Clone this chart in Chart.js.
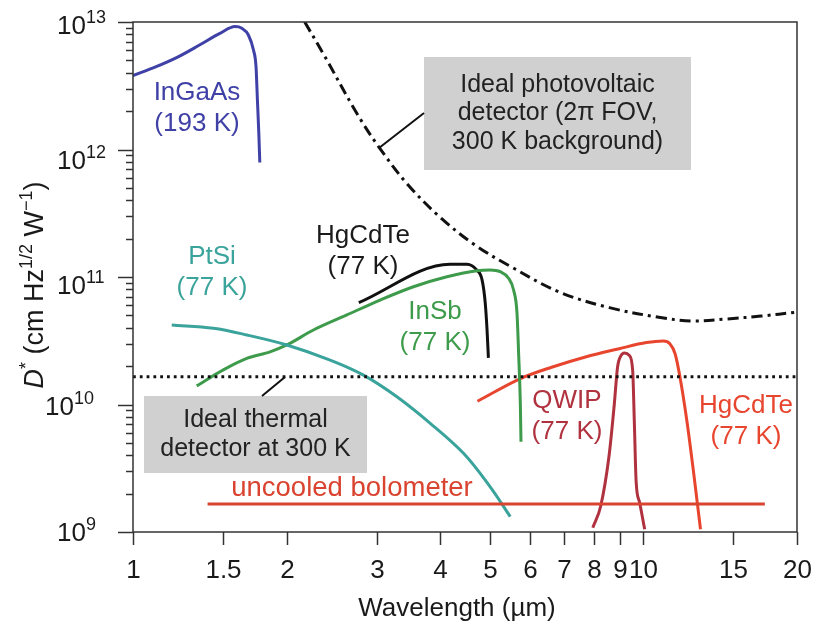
<!DOCTYPE html>
<html>
<head>
<meta charset="utf-8">
<script src="https://cdn.jsdelivr.net/npm/chart.js@4.4.1/dist/chart.umd.min.js"></script>
<style>
  html, body { margin: 0; padding: 0; background: #fff; }
  canvas { display: block; }
</style>
</head>
<body>
<canvas id="detChart" width="817" height="625"></canvas>
<script>
// wavelength (um) and D* (cm Hz^1/2 W^-1) for each detector
const ingaasWl = [1.0, 1.11, 1.22, 1.35, 1.48, 1.585, 1.634, 1.683, 1.722, 1.742, 1.753, 1.764, 1.772];
const ingaasD = [3.8e12, 4.46e12, 5.28e12, 6.6e12, 8.15e12, 9.2e12, 8.93e12, 7.91e12, 6.03e12, 4.46e12, 2.44e12, 1.35e12, 7.9e11];

const pvWl = [2.17, 2.36, 2.75, 3.04, 3.46, 4.02, 4.68, 5.45, 6.84, 8.58, 10.8, 12.5, 14.6, 17.0, 20];
const pvD = [1e13, 5.63e12, 1.9e12, 1.03e12, 5.27e11, 2.88e11, 1.78e11, 1.23e11, 7.63e10, 5.75e10, 4.81e10, 4.52e10, 4.69e10, 4.94e10, 5.3e10];

const hgcdteSwWl = [2.77, 4.18, 4.51, 4.72, 4.83, 4.90, 4.94, 4.97];
const hgcdteSwD = [6.3e10, 1.26e11, 1.26e11, 1.13e11, 9.5e10, 6.25e10, 3.84e10, 2.32e10];

const insbWl = [1.333, 1.503, 1.671, 1.856, 2.002, 2.257, 2.624, 3.05, 3.544, 4.122, 4.72, 5.01, 5.243, 5.443, 5.568, 5.655, 5.696, 5.74, 5.757];
const insbD = [1.40e10, 1.87e10, 2.30e10, 2.59e10, 2.93e10, 3.84e10, 5.04e10, 6.60e10, 8.39e10, 1.005e11, 1.12e11, 1.135e11, 1.10e11, 9.77e10, 7.91e10, 5.19e10, 2.52e10, 1.02e10, 5.1e9];

const ptsiWl = [1.191, 1.437, 1.671, 2.002, 2.434, 2.829, 3.289, 3.823, 4.442, 5.01, 5.485];
const ptsiD = [4.20e10, 3.96e10, 3.51e10, 2.93e10, 2.23e10, 1.70e10, 1.15e10, 7.12e9, 4.14e9, 2.26e9, 1.32e9];

const hgcdteLwWl = [4.73, 5.77, 6.61, 7.70, 8.97, 10.14, 10.94, 11.27, 11.54, 11.80, 12.17, 12.54, 12.94];
const hgcdteLwD = [1.06e10, 1.61e10, 1.96e10, 2.36e10, 2.74e10, 3.06e10, 3.15e10, 3.00e10, 2.50e10, 1.63e10, 7.43e9, 2.96e9, 1.05e9];

const qwipWl = [7.96, 8.25, 8.57, 8.77, 8.90, 9.04, 9.18, 9.39, 9.53, 9.60, 9.68, 9.83, 10.06];
const qwipD = [1.08e9, 1.60e9, 4.02e9, 1.0e10, 1.96e10, 2.42e10, 2.54e10, 2.42e10, 1.84e10, 7.37e9, 2.47e9, 1.71e9, 1.05e9];

const bolometerWl = [1.40, 17.3];
const bolometerD = [1.66e9, 1.66e9];

const thermalWl = [1, 20];
const thermalD = [1.65e10, 1.65e10];

const xTicks = [1, 1.5, 2, 3, 4, 5, 6, 7, 8, 9, 10, 15, 20];
const yDecades = [9, 10, 11, 12, 13];

const FONT = '"Liberation Sans", Arial, Helvetica, sans-serif';

function pts(xs, ys) {
  return xs.map((x, i) => ({ x: x, y: ys[i] }));
}

function curve(data, color, extra) {
  return Object.assign({
    data: data,
    borderColor: color,
    borderWidth: 3,
    pointRadius: 0,
    showLine: true,
    fill: false,
    cubicInterpolationMode: "monotone",
  }, extra || {});
}

// text with superscript pieces: [[text, isSup, italic], ...]
function drawRich(ctx, parts, x, y, size, supSize, align) {
  const widths = parts.map((p) => {
    ctx.font = (p[2] ? "italic " : "") + (p[1] ? supSize : size) + "px " + FONT;
    return ctx.measureText(p[0]).width;
  });
  const total = widths.reduce((a, b) => a + b, 0);
  let cx = x;
  if (align === "center") cx = x - total / 2;
  if (align === "right") cx = x - total;
  parts.forEach((p, i) => {
    ctx.font = (p[2] ? "italic " : "") + (p[1] ? supSize : size) + "px " + FONT;
    ctx.fillText(p[0], cx, p[1] ? y - size * 0.42 : y);
    cx += widths[i];
  });
}

// y label placement per decade: left edge and baseline offset from tick
const yLabelPos = { 9: [57, 8], 10: [45, 9], 11: [57, 16], 12: [57, 18], 13: [57, 11] };

const labels = [
  { lines: ["InGaAs", "(193 K)"], x: 197, y: 93, color: "#3f41a6" },
  { lines: ["PtSi", "(77 K)"], x: 212, y: 257, color: "#3aa39b" },
  { lines: ["HgCdTe", "(77 K)"], x: 363, y: 236, color: "#1a1a1a" },
  { lines: ["InSb", "(77 K)"], x: 435, y: 312, color: "#3d9b4b" },
  { lines: ["QWIP", "(77 K)"], x: 567, y: 401, color: "#b0323f" },
  { lines: ["HgCdTe", "(77 K)"], x: 746, y: 406, color: "#e8452f" },
  { lines: ["uncooled bolometer"], x: 352, y: 488, color: "#d9432f", size: 27.5 },
];

const boxes = [
  { x0: 424, y0: 57, x1: 691, y1: 170, lines: ["Ideal photovoltaic", "detector (2\u03c0 FOV,", "300 K background)"],
    lead: [379, 148, 424, 113] },
  { x0: 144, y0: 396, x1: 367, y1: 473, lines: ["Ideal thermal", "detector at 300 K"],
    lead: [262, 396, 285, 377] },
];

const decorPlugin = {
  id: "decor",
  beforeDatasetsDraw(chart) {
    const ctx = chart.ctx;
    ctx.save();
    boxes.forEach((b) => {
      ctx.fillStyle = "#d0d0d0";
      ctx.fillRect(b.x0, b.y0, b.x1 - b.x0, b.y1 - b.y0);
    });
    ctx.restore();
  },
  afterDraw(chart) {
    const ctx = chart.ctx;
    const area = chart.chartArea;
    const xs = chart.scales.x;
    const ys = chart.scales.y;
    ctx.save();

    // frame
    ctx.strokeStyle = "#333";
    ctx.lineWidth = 1.5;
    ctx.strokeRect(area.left, area.top, area.right - area.left, area.bottom - area.top);

    // x ticks and labels
    ctx.fillStyle = "#1a1a1a";
    ctx.textAlign = "center";
    ctx.textBaseline = "alphabetic";
    ctx.font = "26px " + FONT;
    xTicks.forEach((v) => {
      const px = Math.round(xs.getPixelForValue(v)) + 0.5;
      ctx.beginPath();
      ctx.moveTo(px, area.bottom);
      ctx.lineTo(px, area.bottom + 13);
      ctx.stroke();
      ctx.fillText(String(v), px, 578);
    });

    // y ticks (major + minor) and labels
    yDecades.forEach((n) => {
      const py = Math.round(ys.getPixelForValue(Math.pow(10, n))) + 0.5;
      ctx.beginPath();
      ctx.moveTo(area.left - 15, py);
      ctx.lineTo(area.left, py);
      ctx.stroke();
      ctx.textAlign = "left";
      const lp = yLabelPos[n];
      drawRich(ctx, [["10", false], [String(n), true]], lp[0], py + lp[1], 26, 18, "left");
      if (n < 13) {
        for (let k = 2; k <= 9; k++) {
          const my = Math.round(ys.getPixelForValue(k * Math.pow(10, n))) + 0.5;
          ctx.beginPath();
          ctx.moveTo(area.left - 7, my);
          ctx.lineTo(area.left, my);
          ctx.stroke();
        }
      }
    });

    // axis titles
    ctx.textAlign = "center";
    ctx.font = "26px " + FONT;
    ctx.fillText("Wavelength (\u00b5m)", (area.left + area.right) / 2 - 8, 616);

    ctx.save();
    ctx.translate(43, 285);
    ctx.rotate(-Math.PI / 2);
    ctx.textAlign = "left";
    drawRich(ctx, [["D", false, true], ["*", true], [" (cm Hz", false], ["1/2", true], [" W", false], ["\u22121", true], [")", false]], 0, 0, 27, 18, "center");
    ctx.restore();

    // callout boxes text + leaders
    boxes.forEach((b) => {
      ctx.strokeStyle = "#111";
      ctx.lineWidth = 2;
      ctx.beginPath();
      ctx.moveTo(b.lead[0], b.lead[1]);
      ctx.lineTo(b.lead[2], b.lead[3]);
      ctx.stroke();
      ctx.fillStyle = "#222";
      ctx.textAlign = "center";
      ctx.textBaseline = "middle";
      ctx.font = "25px " + FONT;
      const cx = (b.x0 + b.x1) / 2;
      const cy = (b.y0 + b.y1) / 2;
      const lh = 28.5;
      b.lines.forEach((t, i) => {
        ctx.fillText(t, cx, cy + (i - (b.lines.length - 1) / 2) * lh);
      });
    });

    // curve labels
    ctx.textAlign = "center";
    ctx.textBaseline = "middle";
    labels.forEach((l) => {
      ctx.font = (l.size || 26) + "px " + FONT;
      ctx.fillStyle = l.color;
      l.lines.forEach((t, i) => ctx.fillText(t, l.x, l.y + i * 30.5));
    });

    ctx.restore();
  },
};

const ctx = document.getElementById("detChart").getContext("2d");
new Chart(ctx, {
  type: "scatter",
  data: {
    datasets: [
      curve(pts(thermalWl, thermalD), "#111", { borderWidth: 2.8, borderDash: [2.8, 4], cubicInterpolationMode: "default" }),
      curve(pts(pvWl, pvD), "#111", { borderDash: [11, 5, 3, 5], cubicInterpolationMode: "default", tension: 0.35 }),
      curve(pts(bolometerWl, bolometerD), "#d9432f", { cubicInterpolationMode: "default" }),
      curve(pts(ptsiWl, ptsiD), "#3aa39b", { cubicInterpolationMode: "default", tension: 0.35 }),
      curve(pts(insbWl, insbD), "#3d9b4b"),
      curve(pts(hgcdteSwWl, hgcdteSwD), "#111"),
      curve(pts(hgcdteLwWl, hgcdteLwD), "#e8452f"),
      curve(pts(qwipWl, qwipD), "#b0323f"),
      curve(pts(ingaasWl, ingaasD), "#3f41a6"),
    ],
  },
  options: {
    responsive: false,
    animation: false,
    devicePixelRatio: 1,
    layout: { padding: { left: 133, right: 20, top: 22, bottom: 93 } },
    plugins: {
      legend: { display: false },
      tooltip: { enabled: false },
    },
    scales: {
      x: { type: "logarithmic", min: 1, max: 20, display: false },
      y: { type: "logarithmic", min: 1e9, max: 1e13, display: false },
    },
  },
  plugins: [decorPlugin],
});
</script>
</body>
</html>
